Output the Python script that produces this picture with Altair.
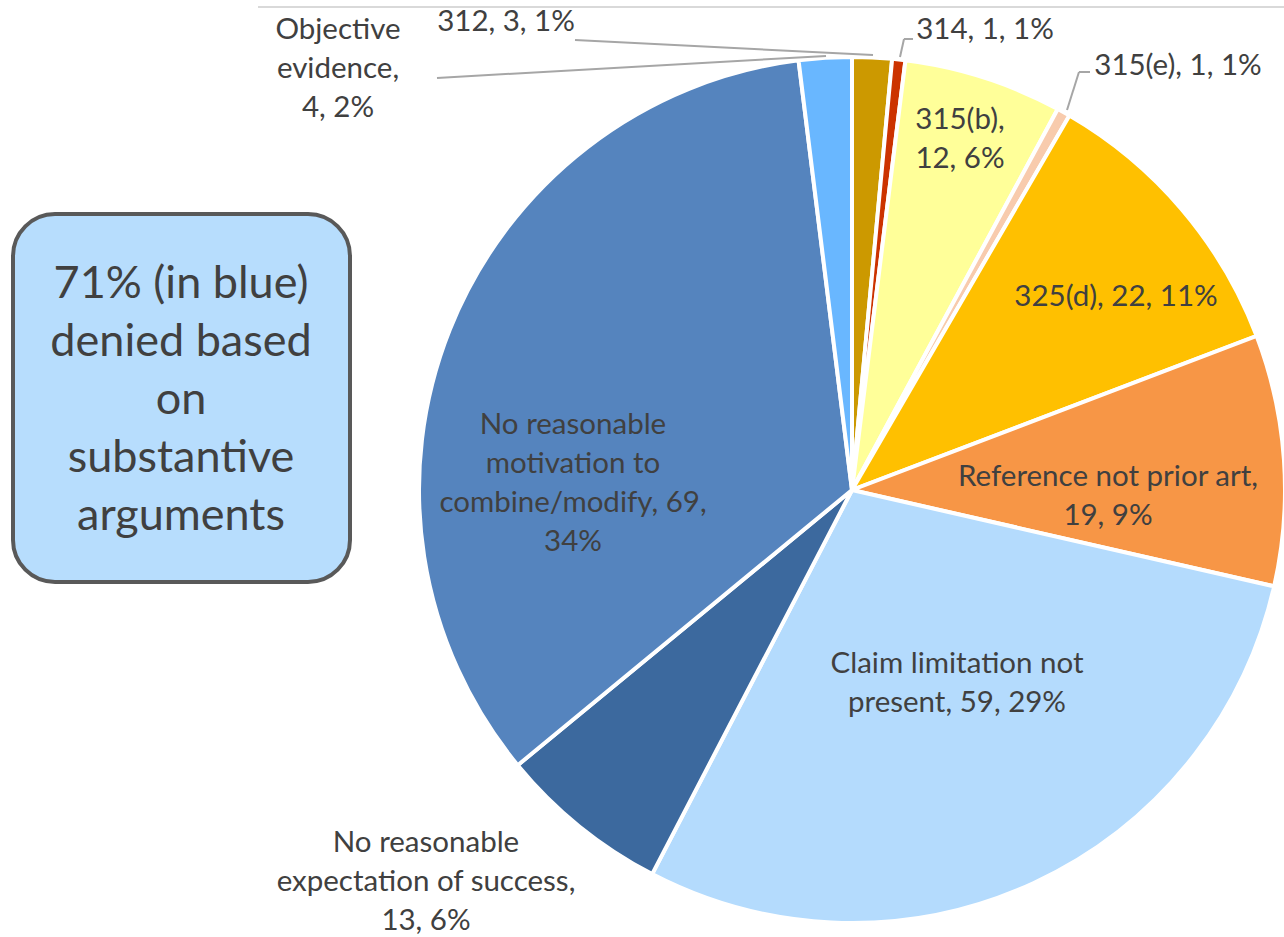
import altair as alt
import pandas as pd

# ---- data ----
categories = ["312", "314", "315(b)", "315(e)", "325(d)", "Reference not prior art",
              "Claim limitation not present", "No reasonable expectation of success",
              "No reasonable motivation to combine/modify", "Objective evidence"]
values = [3, 1, 12, 1, 22, 19, 59, 13, 69, 4]
percents = [1, 1, 6, 1, 11, 9, 29, 6, 34, 2]
colors = ["#CC9900", "#CC3300", "#FFFF99", "#F8CBAD", "#FFC000", "#F79646",
          "#B4DBFD", "#3C699E", "#5584BE", "#69B7FF"]

label_lines = [
    ["312, 3, 1%"],
    ["314, 1, 1%"],
    ["315(b),", "12, 6%"],
    ["315(e), 1, 1%"],
    ["325(d), 22, 11%"],
    ["Reference not prior art,", "19, 9%"],
    ["Claim limitation not", "present, 59, 29%"],
    ["No reasonable", "expectation of success,", "13, 6%"],
    ["No reasonable", "motivation to", "combine/modify, 69,", "34%"],
    ["Objective", "evidence,", "4, 2%"],
]
box_lines = ["71% (in blue)", "denied based", "on", "substantive", "arguments"]

# ---- layout (pixels) ----
W, H = 1284, 937
CX, CY, R = 852, 490, 433
label_pos = [(506, 22), (985, 30), (960, 120), (1178, 66), (1116, 297), (1108, 477),
             (957, 664), (426, 843), (573, 425), (338, 30)]
leaders = [
    (575, 40, 873, 55), (437, 78, 826, 56),
    (900, 57, 904, 39), (904, 39, 913, 39),
    (1067, 110, 1079, 72), (1079, 72, 1090, 72),
]
FONT = "Lato"
TXT = "#404040"

pie_df = pd.DataFrame({"cat": categories, "value": values, "order": list(range(len(values)))})
lab_df = pd.DataFrame({
    "text": [ln for ln in label_lines],
    "x": [p[0] for p in label_pos],
    "y": [p[1] for p in label_pos],
})
lead_df = pd.DataFrame(leaders, columns=["x", "y", "x2", "y2"])
one = pd.DataFrame({"a": [0]})

top_rule = alt.Chart(one).mark_rule(color="#D9D9D9", strokeWidth=2).encode(
    x=alt.value(258), x2=alt.value(W), y=alt.value(7))

box = alt.Chart(one).mark_rect(
    fill="#B7DDFD", stroke="#595959", strokeWidth=4, cornerRadius=42
).encode(x=alt.value(13), x2=alt.value(350), y=alt.value(214), y2=alt.value(582))

box_text = alt.Chart(pd.DataFrame({"t": [box_lines]})).mark_text(
    font=FONT, fontSize=45, color=TXT, align="center", baseline="middle", lineHeight=58
).encode(x=alt.value(181), y=alt.value(284), text="t")

pie = alt.Chart(pie_df).mark_arc(radius=R, stroke="white", strokeWidth=4).encode(
    theta=alt.Theta("value:Q", stack=True),
    order=alt.Order("order:Q"),
    color=alt.Color("cat:N", scale=alt.Scale(domain=categories, range=colors), legend=None),
    x=alt.value(CX), y=alt.value(CY),
)

lead = alt.Chart(lead_df).mark_rule(color="#A6A6A6", strokeWidth=2).encode(
    x=alt.X("x:Q", scale=None), y=alt.Y("y:Q", scale=None),
    x2="x2:Q", y2="y2:Q")

labels = alt.Chart(lab_df).mark_text(
    font=FONT, fontSize=29.5, color=TXT, align="center", baseline="middle", lineHeight=39
).encode(x=alt.X("x:Q", scale=None), y=alt.Y("y:Q", scale=None), text="text")

chart = alt.layer(top_rule, box, box_text, pie, lead, labels).properties(
    width=W, height=H, padding=0, autosize=alt.AutoSizeParams(type="none")
).configure_view(stroke=None)

chart.save("out.html", embed_options={"renderer": "svg", "actions": False})
